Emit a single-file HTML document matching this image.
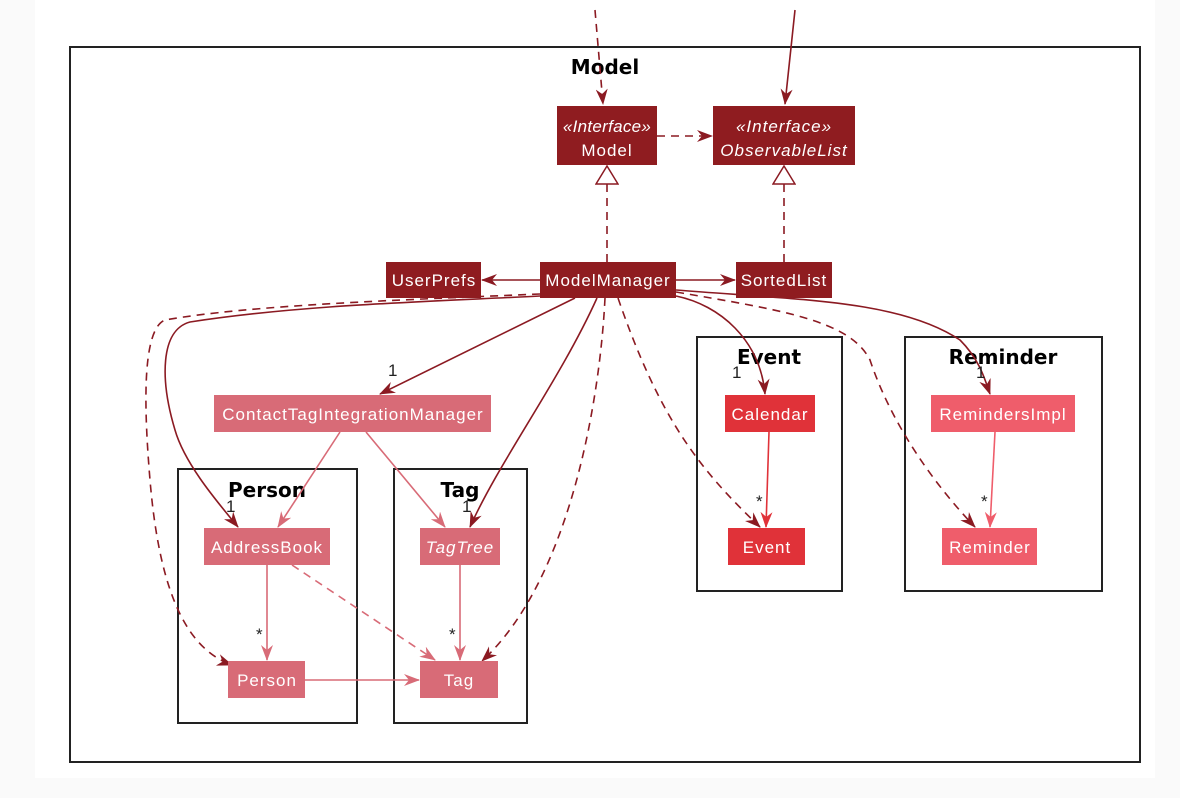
<!DOCTYPE html>
<html><head><meta charset="utf-8"><style>
html,body{margin:0;padding:0;background:#fafafa}
svg{display:block}
text{font-family:"Liberation Sans",sans-serif}
text.t,.t text{font-family:"DejaVu Sans",sans-serif}
</style></head><body>
<svg width="1180" height="798" viewBox="0 0 1180 798" xmlns="http://www.w3.org/2000/svg">
<defs>
<marker id="ad" viewBox="0 0 16 12" refX="15" refY="6" markerWidth="16" markerHeight="12" markerUnits="userSpaceOnUse" orient="auto"><path d="M0,0 L16,6 L0,12 L5,6 Z" fill="#8b1a22"/></marker>
<marker id="ap" viewBox="0 0 16 12" refX="15" refY="6" markerWidth="16" markerHeight="12" markerUnits="userSpaceOnUse" orient="auto"><path d="M0,0 L16,6 L0,12 L5,6 Z" fill="#d86b77"/></marker>
<marker id="ar" viewBox="0 0 16 12" refX="15" refY="6" markerWidth="16" markerHeight="12" markerUnits="userSpaceOnUse" orient="auto"><path d="M0,0 L16,6 L0,12 L5,6 Z" fill="#e03239"/></marker>
<marker id="am" viewBox="0 0 16 12" refX="15" refY="6" markerWidth="16" markerHeight="12" markerUnits="userSpaceOnUse" orient="auto"><path d="M0,0 L16,6 L0,12 L5,6 Z" fill="#ef5d6b"/></marker>
<marker id="tri" viewBox="0 0 20 24" refX="19" refY="12" markerWidth="20" markerHeight="24" markerUnits="userSpaceOnUse" orient="auto"><path d="M1,1 L19,12 L1,23 Z" fill="#fff" stroke="#8b1a22" stroke-width="1.5"/></marker>
</defs>
<rect x="35" y="0" width="1120" height="778" fill="#fff"/>
<rect x="70" y="47" width="1070" height="715" fill="none" stroke="#222" stroke-width="2"/>
<text class="t" x="605" y="74" font-size="20" font-weight="bold" text-anchor="middle">Model</text>
<g fill="none" stroke="#222" stroke-width="2">
<rect x="178" y="469" width="179" height="254"/>
<rect x="394" y="469" width="133" height="254"/>
<rect x="697" y="337" width="145" height="254"/>
<rect x="905" y="337" width="197" height="254"/>
</g>
<g class="t" font-size="20" font-weight="bold" text-anchor="middle">
<text x="267" y="497">Person</text>
<text x="460" y="497">Tag</text>
<text x="769" y="364">Event</text>
<text x="1003" y="364">Reminder</text>
</g>
<g fill="none" stroke-width="1.6">
<path d="M595,10 L603,104" stroke="#8b1a22" stroke-dasharray="8,6" marker-end="url(#ad)"/>
<path d="M795,10 L785,104" stroke="#8b1a22" marker-end="url(#ad)"/>
<path d="M657,136 L712,136" stroke="#8b1a22" stroke-dasharray="8,6" marker-end="url(#ad)"/>
<path d="M607,262 L607,166" stroke="#8b1a22" stroke-dasharray="8,6" marker-end="url(#tri)"/>
<path d="M784,262 L784,166" stroke="#8b1a22" stroke-dasharray="8,6" marker-end="url(#tri)"/>
<path d="M540,280 L482,280" stroke="#8b1a22" marker-end="url(#ad)"/>
<path d="M676,280 L735,280" stroke="#8b1a22" marker-end="url(#ad)"/>
<path d="M540,296 C420,302 300,305 190,322 C160,330 160,380 175,430 C185,465 220,505 238,527" stroke="#8b1a22" marker-end="url(#ad)"/>
<path d="M540,294 C400,300 250,305 165,320 C140,330 145,420 150,480 C160,600 190,650 232,665" stroke="#8b1a22" stroke-dasharray="8,6" marker-end="url(#ad)"/>
<path d="M575,298 L380,394" stroke="#8b1a22" marker-end="url(#ad)"/>
<path d="M597,298 C560,380 500,460 470,527" stroke="#8b1a22" marker-end="url(#ad)"/>
<path d="M605,298 C600,400 570,580 482,661" stroke="#8b1a22" stroke-dasharray="8,6" marker-end="url(#ad)"/>
<path d="M618,298 C660,420 700,470 760,527" stroke="#8b1a22" stroke-dasharray="8,6" marker-end="url(#ad)"/>
<path d="M676,296 C720,305 760,340 765,394" stroke="#8b1a22" marker-end="url(#ad)"/>
<path d="M676,292 C780,310 850,320 870,360 C890,420 930,480 975,527" stroke="#8b1a22" stroke-dasharray="8,6" marker-end="url(#ad)"/>
<path d="M676,290 C800,300 900,300 960,340 C980,360 985,380 990,394" stroke="#8b1a22" marker-end="url(#ad)"/>
<path d="M340,432 L278,527" stroke="#d86b77" marker-end="url(#ap)"/>
<path d="M366,432 L445,527" stroke="#d86b77" marker-end="url(#ap)"/>
<path d="M267,565 L267,660" stroke="#d86b77" marker-end="url(#ap)"/>
<path d="M292,565 L435,660" stroke="#d86b77" stroke-dasharray="8,6" marker-end="url(#ap)"/>
<path d="M305,680 L419,680" stroke="#d86b77" marker-end="url(#ap)"/>
<path d="M460,565 L460,660" stroke="#d86b77" marker-end="url(#ap)"/>
<path d="M769,432 L766,527" stroke="#e03239" marker-end="url(#ar)"/>
<path d="M995,432 L990,527" stroke="#ef5d6b" marker-end="url(#am)"/>
</g>
<g font-size="17" fill="#222">
<text x="388" y="376">1</text>
<text x="226" y="512">1</text>
<text x="462" y="512">1</text>
<text x="732" y="378">1</text>
<text x="976" y="378">1</text>
<text x="256" y="640">*</text>
<text x="449" y="640">*</text>
<text x="756" y="507">*</text>
<text x="981" y="507">*</text>
</g>
<g fill="#8f1c20">
<rect x="557" y="106" width="100" height="59"/>
<rect x="713" y="106" width="142" height="59"/>
<rect x="386" y="262" width="95" height="36"/>
<rect x="540" y="262" width="136" height="36"/>
<rect x="736" y="262" width="96" height="36"/>
</g>
<g fill="#d86b77">
<rect x="214" y="395" width="277" height="37"/>
<rect x="204" y="528" width="126" height="37"/>
<rect x="228" y="661" width="77" height="37"/>
<rect x="420" y="528" width="80" height="37"/>
<rect x="420" y="661" width="78" height="37"/>
</g>
<g fill="#e03239">
<rect x="725" y="395" width="90" height="37"/>
<rect x="728" y="528" width="77" height="37"/>
</g>
<g fill="#ef5d6b">
<rect x="931" y="395" width="144" height="37"/>
<rect x="942" y="528" width="95" height="37"/>
</g>
<g font-size="17" fill="#fff" text-anchor="middle" letter-spacing="1">
<text x="607" y="132" font-style="italic" letter-spacing="0.3">«Interface»</text>
<text x="607" y="156">Model</text>
<text x="784" y="132" font-style="italic">«Interface»</text>
<text x="784" y="156" font-style="italic">ObservableList</text>
<text x="434" y="286">UserPrefs</text>
<text x="608" y="286">ModelManager</text>
<text x="784" y="286">SortedList</text>
<text x="353" y="420">ContactTagIntegrationManager</text>
<text x="267" y="553">AddressBook</text>
<text x="267" y="686">Person</text>
<text x="460" y="553" font-style="italic">TagTree</text>
<text x="459" y="686">Tag</text>
<text x="770" y="420">Calendar</text>
<text x="767" y="553">Event</text>
<text x="1003" y="420">RemindersImpl</text>
<text x="990" y="553">Reminder</text>
</g>
</svg>
</body></html>
